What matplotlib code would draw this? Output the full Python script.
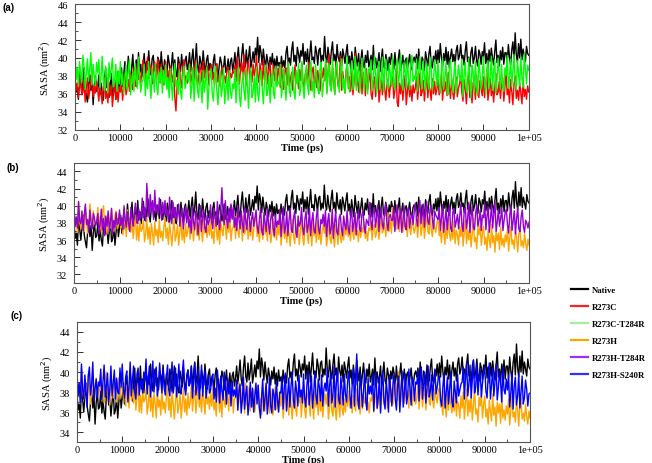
import numpy as np
import matplotlib
matplotlib.use("Agg")
import matplotlib.pyplot as plt
from matplotlib.ticker import MultipleLocator, FixedLocator
from matplotlib.lines import Line2D

# time axis (ps), one sample every 250 ps
time_ps = np.arange(0, 100001, 250)

native = [
    37.9, 36.2, 36.8, 35.4, 38.6, 37.3, 36.0, 37.5, 38.9, 36.6, 35.8, 35.1, 37.0, 38.2, 36.4, 37.7, 34.8, 36.9, 38.0, 36.3,
    36.5, 38.1, 35.9, 37.2, 36.0, 35.3, 37.8, 38.8, 36.7, 37.4, 35.6, 36.9, 38.3, 35.8, 36.2, 37.6, 35.4, 37.0, 38.5, 36.4,
    37.4, 38.9, 36.8, 38.2, 39.6, 37.3, 37.9, 40.2, 38.5, 37.1, 39.0, 40.4, 37.7, 38.6, 39.8, 38.0, 40.6, 38.3, 39.3, 37.9,
    39.2, 40.5, 38.3, 39.6, 38.7, 40.8, 39.0, 38.1, 39.9, 40.3, 38.6, 39.4, 38.2, 40.1, 39.7, 38.5, 40.7, 39.1, 38.4, 39.8,
    39.0, 38.2, 40.3, 39.5, 38.0, 39.2, 40.6, 38.6, 39.8, 38.3, 37.9, 40.1, 39.4, 38.5, 40.4, 38.9, 38.1, 39.7, 40.2, 38.7,
    39.3, 40.6, 38.5, 39.9, 41.0, 38.8, 39.6, 41.6, 39.1, 38.4, 40.2, 39.5, 38.7, 40.8, 39.2, 38.3, 39.8, 40.3, 38.6, 39.4,
    39.1, 38.0, 39.7, 40.4, 38.5, 39.3, 37.8, 38.9, 40.1, 39.5, 38.2, 39.0, 40.2, 38.4, 38.8, 39.9, 38.1, 39.6, 40.0, 38.6,
    39.4, 40.6, 38.8, 39.9, 41.2, 39.3, 38.6, 40.4, 41.6, 39.6, 39.0, 40.9, 39.2, 40.1, 41.3, 38.9, 39.7, 40.7, 39.5, 41.1,
    40.3, 42.3, 39.5, 41.4, 40.6, 39.2, 41.0, 39.8, 38.9, 40.4, 39.6, 38.7, 40.1, 39.3, 40.5, 38.8, 39.9, 38.6, 40.2, 39.1,
    39.5, 38.7, 40.2, 39.0, 39.7, 38.9, 40.6, 41.3, 39.4, 40.0, 39.2, 40.9, 41.8, 39.6, 40.3, 39.1, 41.2, 40.5, 39.5, 40.8,
    40.2, 41.6, 39.3, 40.7, 39.6, 41.0, 39.0, 40.4, 41.9, 39.8, 40.1, 39.4, 41.3, 40.6, 39.2, 40.9, 41.1, 39.5, 40.3, 39.7,
    42.4, 40.2, 39.5, 41.2, 40.0, 39.3, 40.8, 41.8, 39.7, 40.4, 39.1, 41.5, 40.1, 39.6, 40.7, 39.0, 41.0, 40.3, 39.4, 40.6,
    41.5, 39.4, 40.2, 38.8, 40.7, 39.6, 38.7, 41.2, 40.0, 39.1, 40.5, 38.6, 39.8, 40.9, 39.3, 38.9, 40.3, 39.5, 40.8, 39.0,
    39.6, 40.3, 38.7, 41.4, 39.2, 40.0, 38.9, 39.5, 40.6, 38.5, 39.9, 41.0, 39.1, 38.8, 40.4, 39.7, 38.6, 40.1, 39.3, 40.5,
    39.8, 38.7, 40.6, 39.2, 38.9, 39.9, 40.9, 38.6, 39.4, 40.3, 38.5, 39.7, 40.0, 38.8, 39.5, 40.4, 39.0, 38.7, 39.8, 40.1,
    39.5, 40.4, 38.8, 41.0, 39.3, 38.7, 40.1, 39.7, 38.6, 40.7, 39.9, 39.1, 40.5, 41.3, 39.2, 38.9, 40.2, 39.6, 40.8, 39.4,
    40.9, 39.5, 41.6, 40.1, 39.0, 40.5, 39.7, 41.2, 39.3, 40.7, 38.9, 40.2, 41.0, 39.6, 40.4, 39.1, 40.8, 41.4, 39.8, 40.3,
    41.5, 39.9, 40.3, 39.2, 40.8, 41.8, 39.6, 40.1, 39.0, 40.6, 41.2, 39.4, 40.0, 41.3, 39.7, 39.1, 40.9, 40.4, 39.3, 40.7,
    40.2, 41.7, 39.4, 40.5, 38.9, 40.9, 39.6, 41.1, 40.0, 39.2, 40.7, 42.0, 39.5, 40.3, 39.1, 40.8, 39.8, 41.2, 39.3, 40.6,
    40.6, 39.4, 41.5, 40.1, 39.2, 40.9, 41.8, 39.7, 42.8, 40.4, 39.5, 41.6, 40.0, 42.1, 39.8, 41.0, 40.3, 39.6, 41.3, 40.5,
    40.3]

r273c = [
    38.1, 36.4, 37.2, 35.6, 36.9, 38.4, 35.9, 36.2, 37.5, 35.1, 36.7, 37.8, 35.5, 36.3, 38.0, 36.8, 35.7, 37.0, 36.1, 37.4,
    36.5, 35.2, 37.1, 36.0, 34.9, 36.7, 37.8, 35.5, 36.3, 35.0, 37.3, 35.8, 36.9, 34.6, 36.1, 37.5, 35.4, 36.6, 35.1, 36.8,
    36.2, 37.2, 35.3, 36.8, 38.1, 35.9, 36.6, 37.6, 36.3, 38.4, 37.0, 36.5, 38.9, 37.3, 36.8, 39.4, 37.6, 38.2, 37.2, 38.7,
    39.8, 38.2, 37.3, 38.9, 40.1, 37.7, 38.5, 39.2, 37.1, 38.0, 39.6, 38.4, 37.5, 39.9, 38.7, 37.2, 39.3, 38.1, 37.0, 38.8,
    39.6, 37.8, 38.6, 37.0, 39.1, 38.2, 37.3, 38.5, 35.6, 34.1, 36.9, 38.3, 39.4, 37.5, 36.7, 38.9, 39.8, 37.4, 38.0, 37.2,
    38.4, 39.5, 37.2, 38.0, 38.9, 37.5, 39.7, 38.3, 36.9, 37.8, 39.2, 38.6, 37.3, 39.6, 38.1, 37.6, 38.8, 39.1, 37.0, 38.2,
    39.3, 37.6, 38.4, 37.0, 38.8, 39.4, 37.3, 38.1, 36.8, 38.6, 39.1, 37.5, 38.0, 37.2, 38.7, 39.0, 37.4, 38.3, 37.8, 38.5,
    38.3, 39.2, 37.4, 40.1, 38.6, 37.1, 38.9, 39.5, 37.6, 40.4, 38.2, 37.0, 39.0, 39.7, 37.8, 38.5, 37.3, 39.3, 38.0, 38.8,
    40.2, 38.1, 37.3, 39.4, 38.6, 36.9, 39.8, 37.6, 38.3, 39.0, 37.1, 38.7, 39.5, 36.8, 38.0, 39.2, 37.5, 38.4, 37.0, 38.9,
    38.2, 36.7, 39.3, 37.4, 36.5, 38.6, 38.9, 37.0, 39.6, 36.8, 37.7, 38.4, 36.4, 37.9, 39.2, 37.2, 38.1, 36.6, 38.7, 37.5,
    39.4, 37.3, 36.6, 38.2, 38.8, 36.9, 39.5, 37.7, 36.4, 38.5, 39.0, 37.1, 38.0, 36.7, 38.6, 37.4, 36.3, 38.3, 37.8, 38.9,
    37.5, 39.7, 36.2, 38.3, 40.4, 37.0, 36.5, 38.9, 37.4, 36.0, 39.6, 38.1, 36.8, 37.6, 40.2, 36.4, 38.5, 37.2, 36.1, 38.7,
    39.2, 36.6, 37.9, 36.3, 38.6, 35.9, 37.3, 40.5, 36.8, 38.1, 36.2, 37.5, 39.3, 36.0, 38.4, 37.1, 35.8, 38.8, 36.5, 37.6,
    38.4, 36.0, 35.4, 37.2, 37.9, 35.7, 36.8, 38.6, 35.1, 36.4, 37.5, 35.9, 38.2, 36.6, 35.3, 37.0, 37.7, 35.6, 36.9, 38.0,
    37.8, 35.5, 36.4, 38.8, 35.1, 34.6, 37.2, 36.0, 37.6, 35.3, 36.8, 38.1, 34.8, 36.3, 37.4, 35.7, 36.9, 35.2, 37.0, 36.1,
    36.6, 37.9, 35.4, 36.9, 38.3, 35.8, 36.2, 37.5, 35.2, 36.7, 38.0, 35.6, 37.1, 36.4, 35.3, 37.7, 36.0, 37.4, 35.9, 36.5,
    37.6, 35.9, 36.5, 38.2, 35.3, 37.0, 36.3, 37.4, 35.8, 38.4, 36.7, 35.5, 37.8, 36.1, 35.4, 36.9, 37.9, 35.7, 36.6, 37.2,
    38.0, 36.2, 35.2, 37.6, 36.5, 34.9, 37.1, 38.5, 35.6, 36.3, 35.0, 37.3, 36.8, 35.4, 38.1, 36.0, 35.6, 37.5, 36.6, 35.8,
    37.9, 35.6, 36.8, 38.6, 35.3, 36.4, 37.7, 35.8, 37.1, 35.1, 36.6, 38.3, 35.9, 36.2, 37.4, 35.5, 36.9, 37.8, 35.2, 36.7,
    38.3, 35.9, 36.6, 35.0, 37.6, 36.3, 34.8, 37.1, 38.0, 35.5, 36.4, 35.3, 37.2, 36.0, 34.9, 37.8, 35.7, 36.5, 35.4, 36.9,
    36.2]

r273c_t284r = [
    40.8, 37.6, 38.9, 36.8, 39.6, 38.2, 37.2, 40.3, 39.1, 36.5, 38.4, 39.9, 37.4, 38.7, 40.6, 37.0, 39.3, 38.0, 36.9, 39.5,
    38.4, 39.8, 36.7, 37.9, 40.2, 37.3, 36.4, 39.1, 38.2, 36.1, 39.5, 37.6, 38.8, 40.0, 36.8, 37.5, 39.3, 36.3, 38.6, 37.1,
    39.6, 37.0, 38.3, 36.0, 37.7, 39.2, 36.5, 38.8, 39.8, 35.9, 37.4, 38.5, 36.3, 39.4, 37.8, 36.6, 40.1, 38.0, 36.2, 37.3,
    37.6, 39.3, 35.8, 38.2, 36.6, 39.6, 37.2, 35.5, 38.9, 37.9, 36.2, 39.4, 36.9, 35.9, 38.4, 37.3, 39.0, 36.1, 38.6, 37.0,
    39.2, 36.5, 37.8, 35.6, 38.8, 37.1, 35.3, 38.1, 39.4, 36.8, 37.5, 35.9, 38.7, 36.3, 35.4, 37.9, 39.1, 36.6, 37.3, 38.4,
    37.4, 39.3, 35.5, 36.9, 38.9, 35.2, 37.8, 39.5, 36.4, 35.6, 38.3, 37.0, 35.0, 38.6, 36.2, 37.5, 39.0, 34.3, 36.7, 38.1,
    38.8, 36.0, 35.2, 37.6, 39.1, 36.4, 34.8, 37.3, 38.5, 35.7, 36.8, 38.9, 34.9, 36.5, 37.9, 35.3, 38.6, 36.2, 35.5, 37.1,
    36.6, 38.7, 35.0, 37.4, 39.0, 35.8, 34.6, 37.0, 38.4, 36.3, 35.3, 38.8, 36.9, 34.4, 37.6, 38.9, 35.6, 36.2, 37.9, 35.1,
    39.0, 36.1, 35.2, 37.5, 38.6, 36.7, 34.9, 37.2, 39.2, 35.8, 36.4, 38.1, 35.0, 37.7, 38.7, 36.0, 35.5, 39.1, 36.8, 37.3,
    37.1, 39.3, 35.6, 36.9, 38.8, 37.5, 35.3, 38.2, 39.5, 36.4, 35.7, 37.8, 39.0, 36.2, 35.4, 38.6, 37.2, 39.4, 35.8, 36.7,
    39.6, 36.8, 35.5, 38.1, 39.2, 37.0, 35.9, 38.5, 39.7, 36.3, 37.4, 35.6, 39.3, 38.0, 36.6, 36.0, 38.8, 39.5, 35.7, 37.2,
    37.8, 39.8, 36.0, 38.4, 39.4, 36.8, 36.3, 40.0, 37.5, 35.9, 38.9, 39.6, 37.0, 36.2, 38.6, 39.9, 36.5, 37.7, 36.1, 38.2,
    40.1, 37.2, 36.2, 38.6, 39.7, 36.5, 37.9, 40.2, 36.4, 38.3, 39.5, 36.1, 37.6, 40.0, 38.0, 36.3, 39.2, 37.4, 36.0, 38.8,
    38.4, 39.8, 36.4, 37.6, 40.3, 38.1, 36.1, 39.0, 39.6, 36.5, 37.8, 40.1, 36.2, 38.7, 39.9, 37.3, 36.6, 39.4, 38.2, 36.8,
    40.2, 37.5, 36.5, 38.9, 39.8, 36.8, 38.2, 40.4, 37.1, 36.4, 39.5, 38.6, 36.7, 40.0, 37.8, 36.5, 39.3, 40.3, 37.4, 38.0,
    37.6, 39.9, 36.3, 38.5, 40.2, 37.2, 36.6, 39.7, 38.1, 36.2, 39.4, 37.9, 36.5, 40.1, 38.7, 36.4, 37.3, 39.8, 38.3, 36.9,
    39.7, 37.1, 36.1, 38.6, 40.0, 36.5, 37.8, 39.5, 36.3, 35.9, 38.9, 39.8, 37.3, 36.2, 38.2, 39.6, 36.0, 37.6, 39.2, 38.0,
    37.4, 39.9, 35.7, 38.1, 39.5, 36.4, 36.1, 40.0, 37.8, 35.6, 39.2, 38.5, 36.2, 39.6, 37.0, 35.9, 39.8, 38.3, 36.5, 37.7,
    40.1, 37.3, 36.0, 38.7, 39.7, 36.6, 37.9, 40.2, 36.4, 38.4, 39.8, 36.1, 37.5, 40.0, 38.2, 36.5, 39.3, 37.0, 36.3, 38.9,
    38.1, 40.3, 36.6, 37.9, 39.9, 36.8, 38.6, 40.4, 37.3, 36.5, 39.7, 38.3, 36.9, 40.1, 37.6, 36.7, 40.5, 38.8, 37.1, 39.2,
    38.6]

r273h = [
    39.6, 37.5, 38.6, 36.9, 40.4, 38.1, 37.3, 39.2, 38.7, 37.0, 39.8, 38.3, 36.8, 37.9, 40.2, 38.5, 37.4, 39.4, 38.0, 37.7,
    38.3, 39.8, 37.1, 38.7, 36.9, 39.3, 40.0, 37.6, 38.1, 36.7, 39.1, 38.5, 37.4, 39.6, 38.0, 37.0, 38.9, 39.4, 37.3, 38.4,
    39.2, 37.4, 38.1, 36.6, 38.7, 37.9, 36.4, 39.5, 37.2, 38.3, 36.9, 38.5, 36.2, 37.6, 38.9, 36.0, 37.7, 35.9, 38.2, 37.0,
    37.3, 38.3, 35.8, 36.7, 38.6, 36.1, 37.5, 35.5, 37.9, 36.9, 35.4, 38.1, 36.5, 37.2, 35.7, 38.4, 36.3, 37.0, 35.9, 37.6,
    38.6, 36.2, 37.4, 35.5, 38.0, 36.8, 35.3, 37.1, 38.5, 35.9, 36.6, 37.8, 35.4, 36.9, 38.4, 36.0, 37.3, 35.7, 37.9, 36.4,
    37.0, 38.7, 36.1, 37.6, 38.2, 35.9, 37.3, 38.8, 36.5, 37.8, 36.0, 38.3, 37.1, 35.8, 38.6, 36.8, 37.5, 36.3, 38.0, 36.6,
    38.4, 36.2, 37.0, 35.6, 38.8, 37.4, 36.0, 37.7, 35.5, 38.2, 37.1, 36.5, 39.0, 37.6, 36.1, 38.5, 36.9, 38.9, 35.9, 37.3,
    37.5, 38.7, 36.2, 39.0, 37.1, 36.3, 38.4, 37.8, 35.9, 38.9, 36.7, 37.4, 38.5, 36.1, 37.9, 36.5, 38.2, 36.0, 37.2, 38.6,
    38.6, 36.4, 37.3, 35.8, 38.2, 37.0, 36.1, 38.8, 36.7, 37.6, 35.9, 38.3, 37.2, 35.7, 36.9, 38.5, 36.3, 37.4, 36.0, 37.8,
    36.6, 38.3, 35.4, 37.1, 38.6, 36.2, 37.5, 35.7, 38.0, 36.8, 35.3, 37.3, 38.4, 36.4, 35.6, 37.9, 36.9, 38.1, 35.5, 37.0,
    38.5, 36.3, 35.4, 37.4, 37.9, 36.7, 35.6, 38.4, 37.0, 35.3, 38.1, 36.5, 37.6, 35.7, 38.3, 36.1, 37.2, 35.5, 36.9, 37.8,
    36.8, 37.9, 35.3, 36.5, 38.2, 36.1, 35.6, 37.6, 36.3, 35.2, 37.8, 36.9, 35.5, 38.0, 36.4, 35.7, 37.3, 36.0, 37.7, 36.6,
    38.1, 36.4, 37.3, 35.9, 37.7, 36.8, 36.1, 38.3, 36.6, 37.1, 35.8, 37.9, 36.3, 37.5, 36.9, 38.0, 36.2, 37.0, 35.9, 37.4,
    37.1, 38.2, 36.0, 37.5, 37.8, 36.3, 36.9, 38.3, 36.1, 37.4, 38.6, 36.8, 37.2, 38.0, 36.4, 37.7, 39.2, 37.0, 38.3, 36.8,
    39.8, 37.6, 38.9, 37.2, 40.0, 38.4, 37.0, 39.5, 37.9, 36.9, 38.7, 37.3, 38.1, 36.4, 38.9, 37.5, 36.6, 38.2, 37.7, 36.8,
    37.4, 38.8, 36.3, 37.9, 39.1, 36.5, 37.6, 38.6, 36.2, 37.8, 39.3, 37.0, 36.7, 38.9, 37.2, 36.4, 38.3, 37.5, 36.9, 38.1,
    38.4, 36.5, 37.0, 35.7, 38.1, 36.9, 35.5, 37.8, 36.2, 38.5, 36.8, 35.9, 37.4, 36.1, 38.2, 35.6, 37.1, 36.6, 35.4, 37.6,
    36.4, 38.0, 35.3, 36.9, 38.3, 35.6, 37.2, 36.0, 37.7, 35.2, 36.7, 38.5, 35.8, 36.3, 35.0, 37.5, 36.6, 37.9, 35.4, 36.8,
    37.6, 35.5, 36.3, 34.8, 37.2, 36.0, 35.1, 37.8, 35.7, 36.5, 34.6, 37.0, 35.9, 36.8, 34.9, 37.5, 35.4, 36.2, 35.2, 36.6,
    35.8, 37.3, 34.7, 36.2, 37.6, 35.5, 36.0, 35.0, 37.1, 36.3, 34.6, 36.7, 37.4, 35.3, 35.9, 35.1, 36.8, 35.6, 34.8, 36.1,
    35.4]

r273h_t284r = [
    39.8, 37.6, 38.7, 37.4, 40.5, 38.2, 37.9, 39.4, 37.1, 38.9, 40.2, 37.8, 38.4, 36.9, 39.5, 38.0, 37.3, 39.1, 38.5, 37.7,
    38.2, 39.1, 36.7, 37.9, 39.6, 37.2, 38.5, 36.5, 38.8, 37.6, 39.4, 37.0, 38.1, 39.7, 36.8, 38.3, 37.4, 39.2, 37.8, 38.0,
    39.5, 37.7, 38.6, 37.2, 40.0, 38.3, 37.5, 39.3, 38.0, 37.0, 39.8, 38.5, 37.6, 39.1, 40.3, 38.2, 37.9, 39.6, 38.4, 38.8,
    40.9, 38.6, 39.8, 38.2, 42.6, 40.1, 38.7, 41.3, 39.4, 40.6, 38.4, 41.8, 39.2, 40.0, 38.9, 40.9, 39.6, 38.3, 40.4, 39.1,
    40.6, 38.8, 39.5, 38.1, 41.0, 39.3, 37.9, 40.4, 38.6, 39.8, 38.3, 39.1, 40.2, 37.6, 38.9, 39.7, 37.3, 38.5, 39.9, 38.0,
    39.6, 37.5, 38.4, 36.8, 39.9, 38.1, 37.2, 39.4, 38.7, 36.6, 38.2, 40.0, 37.0, 38.6, 39.5, 37.4, 36.9, 38.9, 37.8, 38.3,
    40.1, 38.2, 37.3, 39.7, 38.8, 37.6, 40.5, 38.5, 37.2, 39.4, 42.1, 39.0, 37.8, 40.6, 38.6, 37.4, 39.6, 38.1, 40.2, 38.4,
    39.8, 37.5, 38.6, 37.1, 40.0, 38.3, 37.3, 39.4, 37.9, 36.9, 39.9, 38.1, 37.2, 39.6, 38.7, 37.0, 38.4, 39.2, 37.6, 38.5,
    39.5, 37.6, 36.8, 38.4, 39.8, 37.1, 36.6, 39.2, 38.0, 37.0, 39.7, 37.8, 36.7, 38.6, 39.3, 37.4, 36.5, 38.9, 37.5, 38.2,
    37.8, 39.6, 36.4, 38.1, 39.9, 36.8, 37.5, 39.3, 36.5, 38.3, 39.7, 37.2, 36.9, 38.6, 39.4, 37.0, 36.3, 38.8, 37.6, 38.0,
    39.8, 37.4, 36.6, 38.5, 39.4, 36.9, 37.7, 39.7, 36.5, 38.2, 39.2, 37.1, 36.8, 38.7, 39.6, 37.3, 36.7, 38.4, 37.9, 39.0,
    37.6, 39.5, 36.4, 38.2, 39.1, 36.7, 37.3, 39.6, 36.2, 38.0, 39.3, 37.0, 36.6, 38.5, 39.0, 37.4, 36.5, 38.8, 37.8, 37.2,
    39.4, 37.5, 36.7, 38.6, 39.7, 37.0, 38.0, 39.2, 36.6, 38.3, 39.6, 37.3, 37.0, 38.9, 39.5, 37.6, 36.8, 38.4, 38.1, 37.7,
    40.4, 38.2, 37.2, 39.3, 39.8, 37.5, 38.6, 40.1, 37.0, 38.9, 39.7, 37.8, 37.3, 39.5, 40.2, 38.0, 37.1, 38.7, 39.0, 38.3,
    38.3, 39.9, 37.0, 38.7, 40.1, 37.3, 38.5, 39.6, 36.9, 38.1, 40.0, 37.6, 37.2, 39.4, 39.8, 37.4, 38.6, 39.1, 37.8, 39.3,
    40.3, 38.5, 37.6, 39.6, 40.6, 37.9, 38.8, 40.2, 37.5, 39.1, 40.5, 38.2, 37.8, 39.7, 40.0, 38.4, 37.3, 39.4, 38.9, 38.6,
    38.4, 39.8, 37.1, 38.6, 40.1, 36.9, 38.3, 39.6, 37.2, 38.8, 40.0, 37.4, 37.0, 39.3, 39.7, 37.5, 38.2, 39.0, 37.3, 38.7,
    40.2, 37.8, 37.0, 39.4, 39.8, 37.3, 38.5, 40.4, 36.9, 38.7, 39.9, 37.5, 37.2, 39.1, 40.1, 37.6, 38.3, 39.5, 37.1, 38.9,
    38.6, 40.3, 37.2, 38.8, 39.9, 36.9, 38.4, 40.2, 37.4, 39.0, 40.4, 37.0, 38.1, 39.6, 37.6, 38.5, 39.8, 37.1, 38.3, 39.2,
    39.6, 37.8, 36.8, 38.9, 40.0, 37.1, 38.2, 39.4, 36.7, 38.5, 39.8, 37.3, 37.0, 38.7, 39.5, 37.6, 36.9, 38.3, 38.0, 37.4,
    38.1]

r273h_s240r = [
    40.2, 37.6, 38.9, 36.9, 40.8, 38.3, 37.3, 39.7, 38.1, 36.5, 39.6, 40.5, 37.7, 38.8, 41.0, 37.1, 38.4, 39.3, 37.4, 39.0,
    38.6, 40.3, 37.2, 39.1, 40.7, 37.5, 38.7, 39.9, 37.0, 38.3, 40.6, 37.6, 38.9, 40.2, 37.3, 39.4, 38.0, 37.8, 40.4, 38.5,
    40.8, 38.2, 37.4, 39.5, 40.1, 37.0, 38.6, 41.0, 37.6, 39.2, 40.6, 38.0, 37.3, 39.8, 40.4, 37.7, 38.8, 39.3, 37.9, 40.0,
    39.1, 41.3, 37.8, 39.4, 40.6, 37.5, 38.9, 41.1, 38.0, 39.7, 40.5, 37.6, 38.6, 40.9, 39.2, 37.9, 40.3, 38.4, 37.7, 39.5,
    40.7, 38.3, 37.6, 39.6, 41.0, 37.9, 38.8, 40.4, 37.5, 39.2, 40.8, 38.1, 37.8, 39.9, 41.2, 38.5, 37.7, 39.4, 40.2, 38.6,
    38.9, 40.6, 37.4, 39.0, 40.9, 37.7, 38.5, 40.3, 37.3, 38.8, 40.7, 37.6, 39.3, 40.2, 37.4, 38.6, 39.7, 37.9, 38.2, 39.5,
    39.8, 37.3, 38.4, 37.0, 40.2, 38.6, 36.9, 39.6, 38.1, 37.2, 40.0, 38.5, 36.8, 39.4, 37.8, 38.9, 36.6, 39.1, 37.6, 38.2,
    37.5, 39.2, 36.2, 38.1, 38.8, 35.9, 37.2, 39.5, 36.3, 37.8, 38.6, 35.7, 37.0, 39.0, 36.5, 38.4, 36.0, 37.6, 38.9, 36.8,
    38.7, 36.4, 35.4, 37.6, 39.3, 36.1, 37.4, 38.9, 35.8, 37.0, 39.5, 36.6, 35.9, 38.3, 37.7, 36.2, 39.1, 37.3, 36.0, 38.0,
    37.9, 39.6, 36.3, 38.4, 39.9, 36.1, 37.8, 39.4, 36.5, 38.6, 40.0, 37.2, 36.4, 39.1, 38.0, 36.6, 39.7, 37.5, 38.2, 36.9,
    39.8, 37.4, 36.5, 38.7, 40.1, 36.7, 38.2, 39.6, 36.4, 37.9, 40.0, 37.6, 36.8, 39.3, 38.5, 37.1, 39.7, 36.6, 38.3, 38.9,
    38.1, 40.4, 36.6, 38.6, 39.9, 36.9, 37.7, 40.6, 36.5, 38.9, 40.2, 37.3, 36.8, 39.5, 38.3, 36.7, 39.8, 37.8, 37.0, 39.2,
    40.1, 37.6, 36.4, 38.8, 40.3, 36.6, 39.1, 41.8, 37.2, 36.3, 39.9, 38.4, 36.5, 38.1, 40.2, 37.0, 36.2, 39.4, 37.8, 38.6,
    37.8, 39.8, 36.1, 38.3, 40.0, 36.4, 37.5, 39.6, 35.9, 38.7, 40.1, 37.1, 36.3, 39.2, 37.9, 36.0, 39.7, 38.2, 36.6, 38.9,
    39.9, 37.3, 36.2, 38.6, 39.6, 36.0, 38.2, 40.1, 36.5, 37.9, 39.8, 36.8, 37.6, 40.3, 38.4, 36.7, 39.5, 38.9, 37.1, 39.0,
    38.8, 40.2, 37.1, 39.3, 40.5, 37.3, 38.6, 40.0, 36.9, 38.4, 40.6, 37.5, 38.1, 39.7, 37.2, 39.1, 40.3, 37.8, 38.5, 39.4,
    39.6, 37.2, 36.6, 38.5, 39.9, 36.4, 37.9, 39.5, 36.8, 38.3, 40.0, 37.0, 36.5, 39.1, 38.0, 36.9, 39.8, 37.6, 38.2, 38.8,
    39.0, 40.5, 37.3, 39.6, 41.0, 37.6, 38.8, 40.7, 37.4, 39.2, 41.2, 37.9, 38.5, 40.8, 37.7, 39.4, 40.2, 37.5, 38.9, 39.8,
    40.6, 38.1, 37.4, 39.5, 40.9, 37.3, 38.7, 40.4, 37.6, 39.0, 40.8, 37.2, 38.4, 40.1, 38.9, 37.0, 40.5, 38.2, 37.8, 39.3,
    38.2, 39.7, 36.5, 37.9, 39.9, 36.3, 38.6, 39.5, 36.7, 37.6, 39.8, 36.4, 38.0, 39.6, 36.8, 37.4, 39.2, 38.3, 36.6, 37.8,
    37.9]

labels = ["Native", "R273C", "R273C-T284R", "R273H", "R273H-T284R", "R273H-S240R"]
colors = ["black", "#ff0000", "#00ff00", "#ffa500", "#9400d3", "#0000ff"]
legend_colors = ["black", "#ff2020", "#a0f0a0", "#ffa500", "#a030f0", "#3030ff"]

xtick_vals = [0, 10000, 20000, 30000, 40000, 50000, 60000, 70000, 80000, 90000, 100000]
xtick_labels = ["0", "10000", "20000", "30000", "40000", "50000", "60000",
                "70000", "80000", "90000", "1e+05"]

serif = ["Liberation Serif", "DejaVu Serif"]

fig = plt.figure(figsize=(6.52, 4.64), dpi=100)

panels = [
    ("(a)", [0.115, 0.718, 0.696, 0.271], (32, 46), [32, 34, 36, 38, 40, 42, 44, 46],
     [(native, 0), (r273c, 1), (r273c_t284r, 2)], (0.004, 0.983)),
    ("(b)", [0.1135, 0.388, 0.698, 0.259], (31, 45), [32, 34, 36, 38, 40, 42, 44],
     [(native, 0), (r273h, 3), (r273h_t284r, 4)], (0.01, 0.638)),
    ("(c)", [0.118, 0.045, 0.695, 0.259], (33, 45), [34, 36, 38, 40, 42, 44],
     [(native, 0), (r273h, 3), (r273h_s240r, 5)], (0.016, 0.319)),
]

for tag, pos, ylim, yticks, series, tagpos in panels:
    ax = fig.add_axes(pos)
    for vals, ci in series:
        ax.plot(time_ps, vals, color=colors[ci], lw=1.0)
    ax.set_xlim(0, 100000)
    ax.set_ylim(*ylim)
    ax.xaxis.set_major_locator(FixedLocator(xtick_vals))
    ax.set_xticklabels(xtick_labels)
    ax.xaxis.set_minor_locator(MultipleLocator(5000))
    ax.set_yticks(yticks)
    ax.yaxis.set_minor_locator(MultipleLocator(1))
    ax.tick_params(which="both", direction="in", colors="#333333", labelcolor="black",
                   labelsize=7.5, top=False, right=False)
    ax.tick_params(which="major", length=4.5, width=0.7)
    ax.tick_params(which="minor", length=2.5, width=0.6)
    ax.tick_params(axis="x", pad=2)
    ax.tick_params(axis="y", pad=5)
    for lab in ax.get_xticklabels() + ax.get_yticklabels():
        lab.set_family(serif)
    for sp in ax.spines.values():
        sp.set_color("#555555")
        sp.set_linewidth(0.8)
        sp.set_zorder(5)
    ax.set_xlabel("Time (ps)", family=serif, fontsize=7.5, fontweight="bold", labelpad=0.5)
    ax.set_ylabel("SASA (nm$^2$)", family=serif, fontsize=7.5, labelpad=3)
    fig.text(tagpos[0], tagpos[1], tag, fontsize=7, fontweight="bold",
             family=["Liberation Sans", "DejaVu Sans"], va="center")

handles = [Line2D([], [], color=c, lw=1.6) for c in legend_colors]
leg = fig.legend(handles, labels, loc="upper left", bbox_to_anchor=(0.875, 0.381),
                 frameon=False, borderpad=0, borderaxespad=0, handlelength=2.0,
                 handletextpad=0.4, labelspacing=1.0,
                 prop={"family": serif, "weight": "bold", "size": 6.3})

fig.savefig("out.png", dpi=100)
